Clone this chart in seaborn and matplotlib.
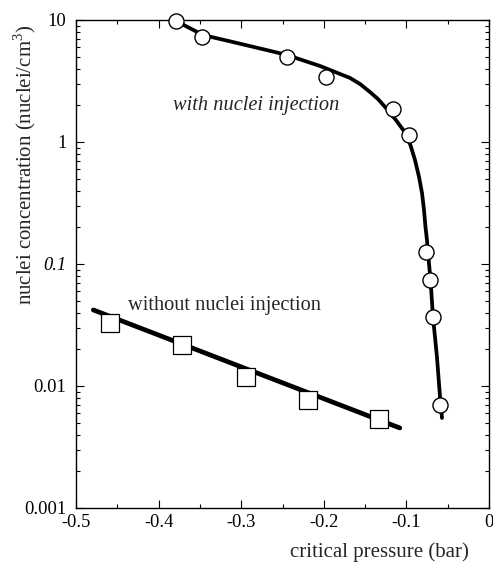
import numpy as np
import pandas as pd
import matplotlib
matplotlib.use("Agg")
import matplotlib.pyplot as plt
import seaborn as sns
from matplotlib.ticker import FixedLocator, LogLocator, NullFormatter, MultipleLocator

# --- data ---
with_x = [-0.379, -0.347, -0.245, -0.197, -0.116, -0.097, -0.076, -0.071, -0.068, -0.059]
with_y = [9.8, 7.26, 4.98, 3.41, 1.86, 1.14, 0.125, 0.074, 0.0368, 0.0070]

with_curve_x = [-0.3789, -0.3462, -0.3051, -0.2748, -0.2446, -0.2228, -0.2046, -0.1864,
                -0.1683, -0.1562, -0.1441, -0.1344, -0.1259, -0.1126, -0.0993, -0.0944,
                -0.0896, -0.0847, -0.0811, -0.0787, -0.0769, -0.0751, -0.0738, -0.0708,
                -0.0678, -0.0630, -0.0593, -0.0569]
with_curve_y = [9.81, 7.53, 6.48, 5.79, 5.17, 4.61, 4.20, 3.75,
                3.35, 2.99, 2.57, 2.25, 1.94, 1.51, 1.14, 0.910,
                0.712, 0.516, 0.382, 0.277, 0.201, 0.157, 0.123, 0.0739,
                0.0368, 0.0173, 0.00813, 0.00547]

without_x = [-0.459, -0.372, -0.294, -0.219, -0.133]
without_y = [0.0328, 0.0217, 0.01186, 0.00767, 0.00537]

without_line_x = [-0.479, -0.108]
without_line_y = [0.0420, 0.00453]

x_ticks = [-0.5, -0.4, -0.3, -0.2, -0.1, 0.0]
x_tick_labels = ["-0.5", "-0.4", "-0.3", "-0.2", "-0.1", "0"]
y_ticks = [0.001, 0.01, 0.1, 1, 10]
y_tick_labels = ["0.001", "0.01", "0.1", "1", "10"]

sns.set_theme(style="ticks")
plt.rcParams["font.family"] = ["Liberation Serif", "DejaVu Serif"]
plt.rcParams["mathtext.fontset"] = "custom"
plt.rcParams["mathtext.rm"] = "Liberation Serif"

W, H = 493, 563
fig = plt.figure(figsize=(W / 100, H / 100), dpi=100)
L, R, T, B = 76, 489, 20, 508
ax = fig.add_axes([L / W, 1 - B / H, (R - L) / W, (B - T) / H])

curve_df = pd.DataFrame({"x": with_curve_x, "y": with_curve_y})
line_df = pd.DataFrame({"x": without_line_x, "y": without_line_y})
wdf = pd.DataFrame({"x": with_x, "y": with_y})
wodf = pd.DataFrame({"x": without_x, "y": without_y})

sns.lineplot(data=curve_df, x="x", y="y", ax=ax, color="black", lw=2.7, sort=False,
             estimator=None)
ax.lines[-1].set_solid_joinstyle("round")
sns.lineplot(data=line_df, x="x", y="y", ax=ax, color="black", lw=3.4, sort=False,
             estimator=None)
sns.scatterplot(data=wdf, x="x", y="y", ax=ax, marker="o", s=118, facecolor="white",
                edgecolor="black", linewidth=1.0, zorder=5, clip_on=False)
sns.scatterplot(data=wodf, x="x", y="y", ax=ax, marker="s", s=150, facecolor="white",
                edgecolor="black", linewidth=0.9, zorder=5)

ax.set_yscale("log")
ax.set_xlim(-0.5, 0.0)
ax.set_ylim(0.001, 10)

ax.xaxis.set_major_locator(FixedLocator(x_ticks))
ax.set_xticklabels(x_tick_labels)
ax.xaxis.set_minor_locator(MultipleLocator(0.05))
ax.yaxis.set_major_locator(FixedLocator(y_ticks))
ax.set_yticklabels(y_tick_labels)
ax.yaxis.set_minor_locator(LogLocator(base=10, subs=np.arange(2, 10)))
ax.yaxis.set_minor_formatter(NullFormatter())
for lbl in ax.get_yticklabels():
    if lbl.get_text() == "0.1":
        lbl.set_style("italic")

ax.tick_params(which="both", direction="in", top=True, right=True, colors="black",
               labelsize=13.3, width=0.8)
ax.tick_params(which="major", length=6)
ax.tick_params(which="minor", length=3)
ax.tick_params(axis="y", which="major", pad=7)
ax.tick_params(axis="x", which="major", pad=4)
for s in ax.spines.values():
    s.set_visible(True)
    s.set_color("black")
    s.set_linewidth(1.0)

ax.set_xlabel("critical pressure (bar)", fontsize=15)
ax.set_ylabel("nuclei concentration (nuclei/cm$^3$)", fontsize=15)
ax.xaxis.set_label_coords((379 - L) / (R - L), (B - 552) / (B - T))
ax.xaxis.label.set_va("center")
ax.yaxis.set_label_coords((25 - L) / (R - L), (B - 165) / (B - T))
ax.yaxis.label.set_va("center")

ax.text(-0.282, 2.01, "with nuclei injection", style="italic", fontsize=14.7,
        ha="center", va="center")
ax.text(-0.320, 0.0461, "without nuclei injection", fontsize=14.7,
        ha="center", va="center")

fig.savefig("out.png", dpi=100)
